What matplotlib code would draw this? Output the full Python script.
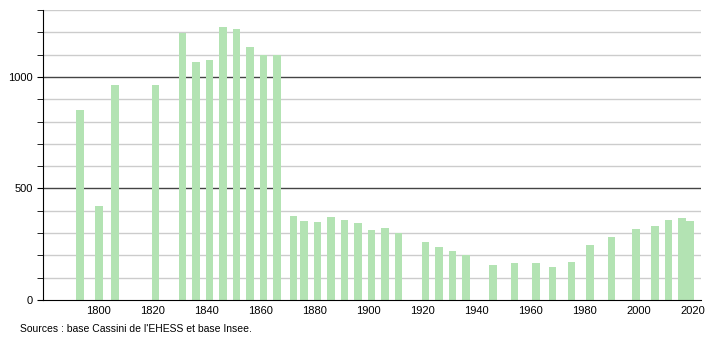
import matplotlib
matplotlib.use("Agg")
import matplotlib.pyplot as plt

# Population par recensement
annees = [1793, 1800, 1806, 1821, 1831, 1836, 1841, 1846, 1851, 1856, 1861, 1866,
          1872, 1876, 1881, 1886, 1891, 1896, 1901, 1906, 1911, 1921, 1926, 1931,
          1936, 1946, 1954, 1962, 1968, 1975, 1982, 1990, 1999, 2006, 2011, 2016, 2019]
population = [853, 422, 966, 965, 1198, 1069, 1074, 1225, 1213, 1132, 1098, 1098,
              377, 355, 350, 371, 359, 344, 314, 325, 302, 261, 237, 220,
              201, 157, 165, 165, 148, 171, 246, 283, 319, 332, 359, 367, 355]
ticks_x = list(range(1800, 2021, 20))
ticks_y = [0, 500, 1000]

plt.rcParams['font.family'] = ['Liberation Sans', 'DejaVu Sans']

fig = plt.figure(figsize=(7.1, 3.4), dpi=100)
ax = fig.add_axes([0.0606, 0.1176, 0.9264, 0.853])

# lignes de grille
for v in range(100, 1301, 100):
    if v % 500 == 0:
        ax.axhline(v, color='#444444', lw=1.0, zorder=1)
    else:
        ax.axhline(v, color='#cccccc', lw=1.0, zorder=1)

ax.bar(annees, population, width=2.7, color='#b3e3b3', zorder=2)

ax.set_xlim(1779.3, 2023)
ax.set_ylim(0, 1300)
ax.set_xticks(ticks_x)
ax.set_yticks(ticks_y)
ax.set_yticks(range(0, 1301, 100), minor=True)
ax.tick_params(axis='x', length=0, labelsize=8, pad=4)
ax.tick_params(axis='y', which='both', length=4, labelsize=8, direction='out')
ax.spines['top'].set_visible(False)
ax.spines['right'].set_visible(False)

fig.text(0.028, 0.025, "Sources : base Cassini de l'EHESS et base Insee.", fontsize=7.5)

fig.savefig("out.png", dpi=100)
